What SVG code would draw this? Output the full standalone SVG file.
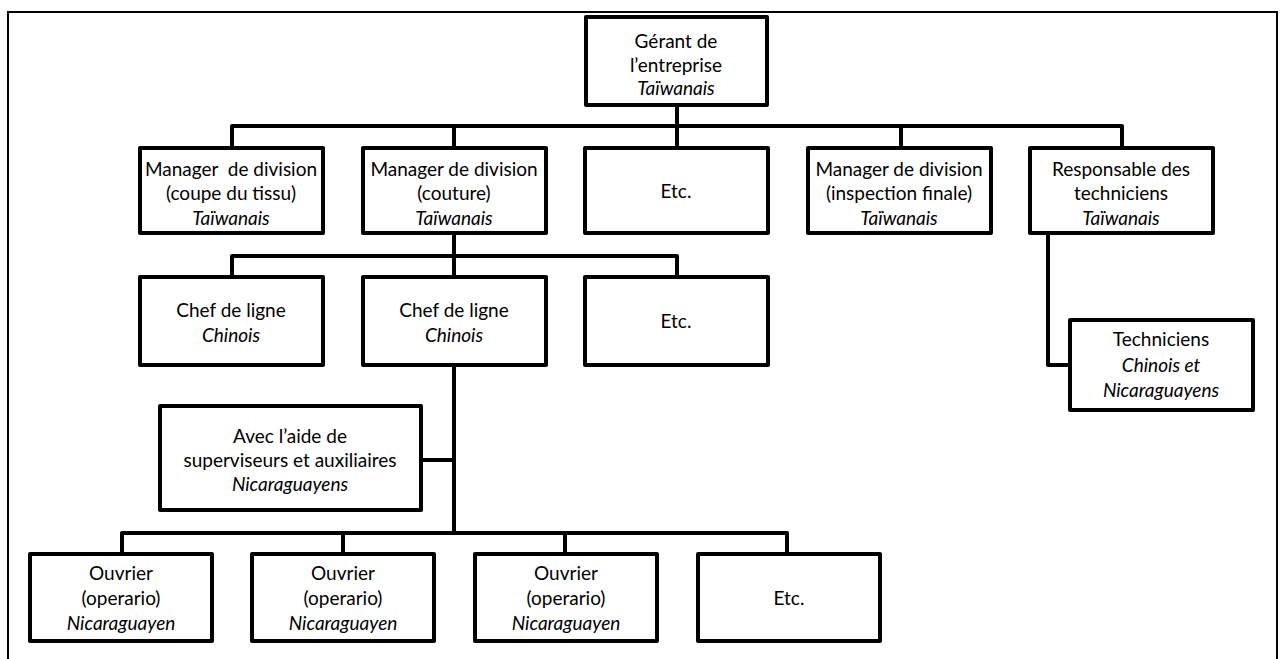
<svg xmlns="http://www.w3.org/2000/svg" width="1282" height="659" viewBox="0 0 1282 659">
<style>
.box{fill:#fff;stroke:#000;stroke-width:4;stroke-linejoin:round}
.conn{fill:none;stroke:#000;stroke-width:4;stroke-linejoin:round}
text{font-family:Lato,"Liberation Sans",sans-serif;font-size:19px;fill:#000;text-anchor:middle}
.i{font-style:italic}
</style>
<rect x="0" y="0" width="1282" height="659" fill="#fff"/>
<rect x="8" y="12" width="1269" height="670" fill="none" stroke="#000" stroke-width="2"/>
<g id="connectors">
<path class="conn" d="M677 107V146"/>
<path class="conn" d="M232 146V126H1122V146"/>
<path class="conn" d="M454 126V146"/>
<path class="conn" d="M901 126V146"/>
<path class="conn" d="M454 235V275"/>
<path class="conn" d="M232 275V256H677V275"/>
<path class="conn" d="M454 367V533"/>
<path class="conn" d="M122 552V533H787V552"/>
<path class="conn" d="M343 533V552"/>
<path class="conn" d="M565 533V552"/>
<path class="conn" d="M423 460H454"/>
<path class="conn" d="M1048 235V365H1068"/>
</g>
<g id="gerant"><rect class="box" x="586" y="17" width="181" height="88"/>
<text x="676" y="48">Gérant de</text><text x="676" y="72">l’entreprise</text><text x="676" y="95" class="i">Taïwanais</text></g>
<g id="mgr-coupe"><rect class="box" x="140" y="148" width="183" height="85"/>
<text x="231" y="176" xml:space="preserve">Manager  de division</text><text x="231" y="200">(coupe du tissu)</text><text x="231" y="225" class="i">Taïwanais</text></g>
<g id="mgr-couture"><rect class="box" x="363" y="148" width="183" height="85"/>
<text x="454" y="176">Manager de division</text><text x="454" y="200">(couture)</text><text x="454" y="225" class="i">Taïwanais</text></g>
<g id="etc1"><rect class="box" x="585" y="148" width="183" height="85"/>
<text x="676" y="198">Etc.</text></g>
<g id="mgr-inspection"><rect class="box" x="808" y="148" width="183" height="85"/>
<text x="899" y="176">Manager de division</text><text x="899" y="200">(inspection finale)</text><text x="899" y="225" class="i">Taïwanais</text></g>
<g id="resp-tech"><rect class="box" x="1030" y="148" width="183" height="85"/>
<text x="1121" y="176">Responsable des</text><text x="1121" y="200">techniciens</text><text x="1121" y="225" class="i">Taïwanais</text></g>
<g id="chef1"><rect class="box" x="140" y="277" width="183" height="88"/>
<text x="231" y="317">Chef de ligne</text><text x="231" y="342" class="i">Chinois</text></g>
<g id="chef2"><rect class="box" x="363" y="277" width="183" height="88"/>
<text x="454" y="317">Chef de ligne</text><text x="454" y="342" class="i">Chinois</text></g>
<g id="etc2"><rect class="box" x="585" y="277" width="183" height="88"/>
<text x="676" y="328">Etc.</text></g>
<g id="techniciens"><rect class="box" x="1070" y="320" width="183" height="90"/>
<text x="1161" y="346">Techniciens</text><text x="1161" y="372" class="i">Chinois et</text><text x="1161" y="397" class="i">Nicaraguayens</text></g>
<g id="aide"><rect class="box" x="160" y="406" width="261" height="104"/>
<text x="290" y="443">Avec l’aide de</text><text x="290" y="467">superviseurs et auxiliaires</text><text x="290" y="491" class="i">Nicaraguayens</text></g>
<g id="ouvrier1"><rect class="box" x="30" y="554" width="182" height="87"/>
<text x="121" y="580">Ouvrier</text><text x="121" y="605">(operario)</text><text x="121" y="630" class="i">Nicaraguayen</text></g>
<g id="ouvrier2"><rect class="box" x="252" y="554" width="182" height="87"/>
<text x="343" y="580">Ouvrier</text><text x="343" y="605">(operario)</text><text x="343" y="630" class="i">Nicaraguayen</text></g>
<g id="ouvrier3"><rect class="box" x="475" y="554" width="182" height="87"/>
<text x="566" y="580">Ouvrier</text><text x="566" y="605">(operario)</text><text x="566" y="630" class="i">Nicaraguayen</text></g>
<g id="etc3"><rect class="box" x="698" y="554" width="182" height="87"/>
<text x="789" y="605">Etc.</text></g>
</svg>
